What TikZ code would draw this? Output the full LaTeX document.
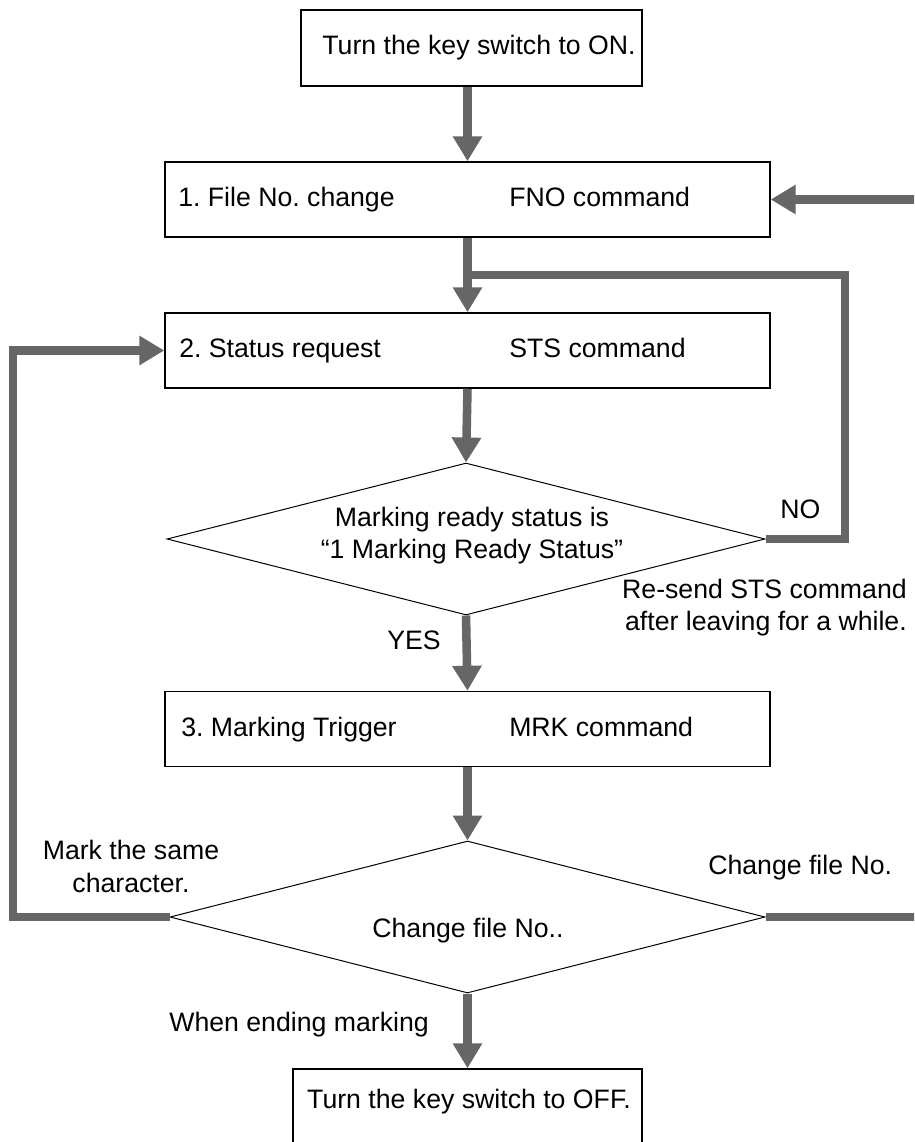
\documentclass[tikz,border=0pt]{standalone}
\usepackage{fontspec}
\setmainfont{Liberation Sans}
\usetikzlibrary{arrows.meta,shapes.geometric}
\definecolor{flowgray}{HTML}{666666}
\frenchspacing
\begin{document}
\begin{tikzpicture}[x=0.75pt,y=-0.75pt,
  box/.style={draw=black, line width=1.1pt, rectangle, inner sep=0, minimum width=453.75pt, minimum height=56.25pt},
  decision/.style={draw=black, line width=0.75pt, diamond, inner sep=0, minimum width=448.5pt, minimum height=114pt},
  flow/.style={draw=flowgray, line width=6.4pt, line join=miter},
  flowarrow/.style={flow, -{Triangle[length=18.75pt,width=21pt]}},
  lbl/.style={inner sep=0, font=\fontsize{20}{24}\selectfont}]

\useasboundingbox (0,0) rectangle (914,1142);
\clip (0,0) rectangle (914,1142);
\fill[white] (0,0) rectangle (914,1142);

% nodes
\node[box, minimum width=255.75pt, minimum height=57pt] (on) at (471.5,48) {};
\node[box] (b1) at (467.5,199.5) {};
\node[box] (b2) at (467.5,350.5) {};
\node[decision] (d1) at (466,539) {};
\node[box] (b3) at (467.5,729) {};
\node[decision, minimum width=446.25pt] (d2) at (467.5,917) {};
\node[box, minimum width=261.75pt, minimum height=60.75pt] (off) at (467.5,1109.5) {};

% free ends and bends
\coordinate (rin) at (920,199.5);
\coordinate (noR) at (845,275);
\coordinate (join) at (467.5,275);
\coordinate (lft) at (13,917);
\coordinate (rout) at (920,917);

% connectors
\draw[flowarrow] (on.south -| b1.north) -- (b1.north);
\draw[flowarrow] (rin) -- (b1.east);
\draw[flowarrow] (b1.south) -- (b2.north);
\draw[flow] (d1.east) -| (noR) -- (join);
\draw[flowarrow] (b2.south) -- (d1.north);
\draw[flowarrow] (d1.south) -- (b3.north);
\draw[flowarrow] (b3.south) -- (d2.north);
\draw[flowarrow] (d2.west) -- (lft) |- (b2.west);
\draw[flow] (d2.east) -- (rout);
\draw[flowarrow] (d2.south) -- (off.north);

% texts
\node[lbl, anchor=base] (tOn) at (479,54) {Turn the key switch to ON.};
\node[lbl, anchor=base west] (t1a) at (178,206) {1. File No. change};
\node[lbl, anchor=base west] (t1b) at (509,206) {FNO command};
\node[lbl, anchor=base west] (t2a) at (179,357) {2. Status request};
\node[lbl, anchor=base west] (t2b) at (509,357) {STS command};
\node[lbl, anchor=base] (t3a) at (472,526) {Marking ready status is};
\node[lbl, anchor=base] (t3b) at (472,558) {“1 Marking Ready Status”};
\node[lbl, anchor=base west] (tno) at (780,518) {NO};
\node[lbl, anchor=base east] (tre1) at (907,598) {Re-send STS command};
\node[lbl, anchor=base east] (tre2) at (907,630) {after leaving for a while.};
\node[lbl, anchor=base west] (tyes) at (387,649) {YES};
\node[lbl, anchor=base west] (t4a) at (181,736) {3. Marking Trigger};
\node[lbl, anchor=base west] (t4b) at (509,736) {MRK command};
\node[lbl, anchor=base] (tm1) at (131,859) {Mark the same};
\node[lbl, anchor=base] (tm2) at (131,892) {character.};
\node[lbl, anchor=base west] (tcr) at (708,874) {Change file No.};
\node[lbl, anchor=base] (tcd) at (468,937) {Change file No..};
\node[lbl, anchor=base east] (tend) at (429,1031) {When ending marking};
\node[lbl, anchor=base] (toff) at (469,1108) {Turn the key switch to OFF.};
\end{tikzpicture}
\end{document}
